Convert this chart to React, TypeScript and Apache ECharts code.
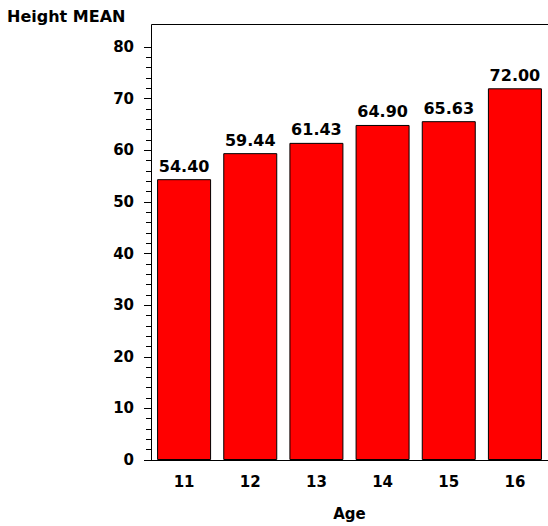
import React, { useEffect, useRef } from "react";
import * as echarts from "echarts";

const categories = ["11", "12", "13", "14", "15", "16"];
const heightMean = [54.4, 59.44, 61.43, 64.9, 65.63, 72.0];
const yTicks = { min: 0, max: 80, interval: 10 };

const FONT = "DejaVu Sans";

export default function App() {
  const ref = useRef<HTMLDivElement>(null);
  useEffect(() => {
    if (!ref.current) return;
    const chart = echarts.init(ref.current, undefined, { renderer: "svg" });
    chart.setOption({
      animation: false,
      backgroundColor: "#ffffff",
      title: {
        text: "Height MEAN",
        left: 7,
        top: 8,
        padding: 0,
        textStyle: { fontFamily: FONT, fontSize: 16, fontWeight: "bold", color: "#000" },
      },
      grid: { left: 151, right: 0, top: 47, bottom: 60, containLabel: false },
      xAxis: {
        type: "category",
        data: categories,
        name: "Age",
        nameLocation: "middle",
        nameGap: 46,
        nameTextStyle: { fontFamily: FONT, fontSize: 15, fontWeight: "bold", color: "#000" },
        axisLine: { show: true, lineStyle: { color: "#000", width: 1 } },
        axisTick: { show: false },
        axisLabel: { fontFamily: FONT, fontSize: 15, fontWeight: "bold", color: "#000", margin: 14 },
        splitLine: { show: false },
      },
      yAxis: {
        type: "value",
        min: yTicks.min,
        max: yTicks.max,
        interval: yTicks.interval,
        axisLine: { show: true, lineStyle: { color: "#000", width: 1 } },
        axisTick: { show: true, length: 7, lineStyle: { color: "#000", width: 1 } },
        minorTick: { show: true, splitNumber: 5, length: 5, lineStyle: { color: "#000", width: 1 } },
        axisLabel: { fontFamily: FONT, fontSize: 15, fontWeight: "bold", color: "#000", margin: 17 },
        splitLine: { show: false },
      },
      graphic: [
        {
          type: "line",
          shape: { x1: 151.5, y1: 24.5, x2: 548, y2: 24.5 },
          style: { stroke: "#000", lineWidth: 1 },
          silent: true,
        },
        {
          type: "line",
          shape: { x1: 151.5, y1: 24.5, x2: 151.5, y2: 47.5 },
          style: { stroke: "#000", lineWidth: 1 },
          silent: true,
        },
      ],
      series: [
        {
          type: "bar",
          data: heightMean,
          barWidth: 54,
          itemStyle: { color: "#ff0000", borderColor: "#000", borderWidth: 1 },
          label: {
            show: true,
            position: "top",
            distance: 5,
            formatter: (p: any) => Number(p.value).toFixed(2),
            fontFamily: FONT,
            fontSize: 16,
            fontWeight: "bold",
            color: "#000",
          },
        },
      ],
    });
    return () => chart.dispose();
  }, []);
  return (
    <div
      ref={ref}
      style={{ position: "fixed", left: 0, top: 0, width: 548, height: 526 }}
    />
  );
}
